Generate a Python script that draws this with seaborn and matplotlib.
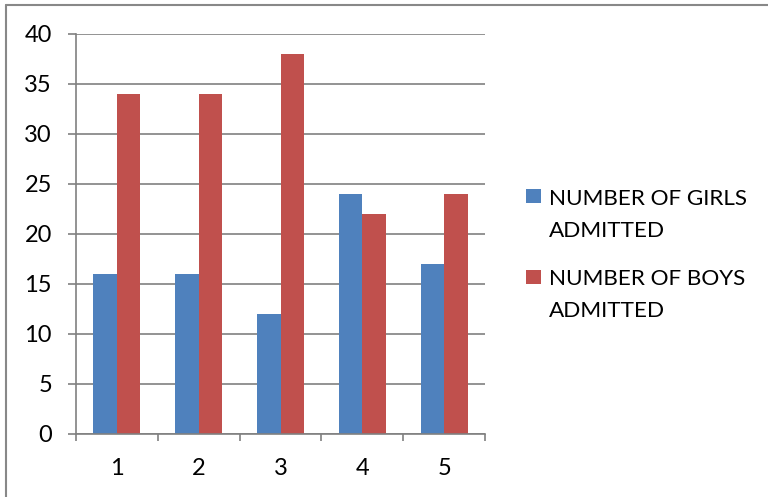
import matplotlib
matplotlib.use("Agg")
import matplotlib.pyplot as plt
import seaborn as sns
import pandas as pd
from matplotlib.patches import Rectangle
from matplotlib.lines import Line2D

categories = ["1", "2", "3", "4", "5"]
girls = [16, 16, 12, 24, 17]
boys = [34, 34, 38, 22, 24]
series_names = ["NUMBER OF GIRLS\nADMITTED", "NUMBER OF BOYS\nADMITTED"]
colors = ["#4F81BD", "#C0504D"]
yticks = [0, 5, 10, 15, 20, 25, 30, 35, 40]

df = pd.DataFrame({
    "cat": categories * 2,
    "value": girls + boys,
    "series": [series_names[0]] * len(categories) + [series_names[1]] * len(categories),
})

sns.set_style("white")
plt.rcParams["font.family"] = ["Lato", "DejaVu Sans"]

W, H = 768, 497
fig = plt.figure(figsize=(W / 100, H / 100), dpi=100)
ax = fig.add_axes([76 / W, 1 - 434 / H, (485 - 76) / W, 400 / H])

sns.barplot(data=df, x="cat", y="value", hue="series", palette=colors,
            width=0.575, gap=0, saturation=1, linewidth=0, legend=False, ax=ax)

gray = "#808080"
ax.set_xlim(-0.5, len(categories) - 0.5)
ax.set_ylim(0, 40)
ax.set_yticks(yticks)
ax.set_yticklabels([str(v) for v in yticks])
ax.set_xticks(range(len(categories)))
ax.set_xticklabels(categories)
ax.set_xticks([i - 0.5 for i in range(len(categories) + 1)], minor=True)
ax.set_xlabel("")
ax.set_ylabel("")
ax.yaxis.grid(True, color=gray, linewidth=1.2)
ax.set_axisbelow(True)
for s in ["top", "right"]:
    ax.spines[s].set_visible(False)
for s in ["left", "bottom"]:
    ax.spines[s].set_color(gray)
    ax.spines[s].set_linewidth(1.2)
ax.tick_params(axis="y", which="major", direction="out", length=5.8, width=1.2,
               color=gray, pad=11.5, labelsize=17, labelcolor="black", left=True)
ax.tick_params(axis="x", which="major", length=0, pad=17.5, labelsize=17, labelcolor="black")
ax.tick_params(axis="x", which="minor", direction="out", length=5.2, width=1.2,
               color=gray, bottom=True)

# legend
entries = [(189, [205, 237]), (270, [285, 317])]
for (sq_top, baselines), name, col in zip(entries, series_names, colors):
    fig.patches.append(Rectangle((526 / W, 1 - (sq_top + 14) / H), 15 / W, 14 / H,
                                 transform=fig.transFigure, facecolor=col, edgecolor="none"))
    for line, b in zip(name.split("\n"), baselines):
        fig.text(549 / W, 1 - b / H, line, fontsize=16.2, va="baseline", ha="left", color="black")

# outer border (top and left visible)
fig.add_artist(Line2D([6 / W, 1], [1 - 5 / H, 1 - 5 / H], transform=fig.transFigure,
                      color="#888888", linewidth=1.5))
fig.add_artist(Line2D([6 / W, 6 / W], [0, 1 - 5 / H], transform=fig.transFigure,
                      color="#888888", linewidth=1.5))

fig.savefig("out.png", dpi=100)
